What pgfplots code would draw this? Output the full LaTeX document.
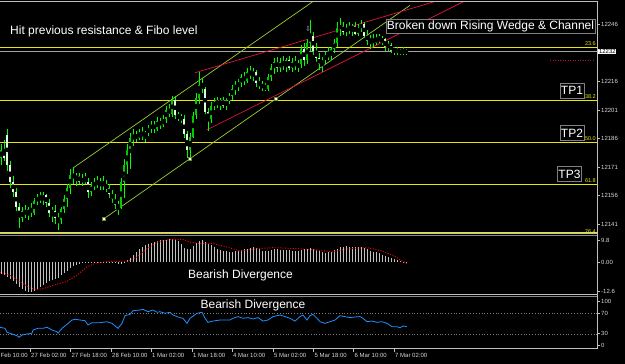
\documentclass[border=0pt]{standalone}
\usepackage{pgfplots}
\pgfplotsset{compat=1.18}
\usepackage{pgfplotstable}
\usepackage{fontspec}
\setmainfont{Liberation Sans}
\newfontfamily\symfont{DejaVu Sans}
\definecolor{limeg}{HTML}{00FF00}
\definecolor{ygreen}{HTML}{9ACD32}
\definecolor{crim}{HTML}{DC143C}
\definecolor{fib}{HTML}{E8E800}
\definecolor{sil}{HTML}{C0C0C0}
\definecolor{dblue}{HTML}{1E90FF}
\definecolor{lbl}{HTML}{D8D8D8}

\pgfplotstableread{
x o h l c
1 12176 12183 12172 12180
4 12180 12185 12174 12176
7 12188 12191 12169 12172
10 12172 12174 12160 12163
13 12163 12166 12155 12158
16 12158 12160 12148 12150
19 12150 12152 12139 12144
22 12144 12150 12142 12148
25 12148 12151 12144 12146
28 12146 12150 12143 12149
31 12149 12152 12145 12147
34 12147 12155 12146 12153
37 12153 12157 12151 12155
40 12155 12158 12152 12154
43 12154 12158 12151 12156
46 12156 12157 12150 12152
49 12152 12154 12145 12147
52 12147 12150 12142 12148
55 12148 12151 12141 12144
58 12144 12147 12138 12143
61 12143 12150 12141 12149
64 12149 12156 12147 12154
67 12154 12162 12150 12160
70 12160 12170 12157 12167
73 12167 12171 12162 12165
76 12165 12168 12161 12166
79 12166 12168 12162 12163
82 12163 12167 12161 12165
85 12165 12168 12162 12163
88 12163 12165 12155 12158
91 12158 12163 12156 12161
94 12161 12165 12159 12163
97 12163 12166 12160 12162
100 12162 12165 12159 12163
103 12163 12166 12159 12161
106 12161 12164 12158 12160
109 12160 12162 12155 12157
112 12157 12159 12152 12154
115 12154 12157 12149 12151
118 12151 12153 12146 12150
121 12150 12165 12149 12163
124 12163 12175 12155 12172
127 12172 12183 12167 12180
130 12180 12189 12170 12186
133 12186 12191 12182 12188
136 12188 12190 12184 12186
139 12186 12191 12185 12189
142 12189 12192 12185 12187
145 12187 12190 12184 12189
148 12189 12193 12187 12191
151 12191 12195 12189 12193
154 12193 12195 12189 12191
157 12191 12197 12190 12195
160 12195 12197 12191 12193
163 12193 12198 12192 12196
166 12196 12203 12194 12201
169 12201 12204 12197 12199
172 12199 12208 12197 12206
175 12206 12208 12196 12198
178 12198 12200 12195 12197
181 12197 12199 12194 12196
184 12196 12198 12186 12188
187 12188 12190 12176 12180
190 12180 12189 12176 12187
193 12187 12200 12186 12198
196 12198 12210 12196 12207
199 12207 12221 12204 12214
202 12214 12218 12210 12212
205 12212 12213 12199 12200
208 12200 12202 12190 12196
211 12196 12205 12194 12203
214 12203 12207 12201 12205
217 12205 12208 12202 12204
220 12204 12207 12201 12206
223 12206 12208 12202 12203
226 12203 12207 12201 12206
229 12206 12210 12204 12208
232 12208 12214 12206 12212
235 12212 12216 12209 12214
238 12214 12217 12211 12215
241 12215 12220 12213 12218
244 12218 12221 12214 12216
247 12216 12223 12215 12221
250 12221 12224 12217 12219
253 12219 12223 12216 12221
256 12221 12222 12213 12215
259 12215 12218 12212 12214
262 12214 12216 12211 12213
265 12213 12215 12211 12212
268 12212 12220 12211 12218
271 12218 12225 12216 12223
274 12223 12228 12220 12226
277 12226 12229 12221 12223
280 12223 12228 12221 12226
283 12226 12229 12222 12224
286 12224 12228 12221 12227
289 12227 12229 12222 12223
292 12223 12228 12221 12226
295 12226 12229 12222 12224
298 12224 12227 12221 12225
301 12225 12235 12223 12233
304 12233 12236 12224 12227
307 12227 12238 12225 12236
310 12236 12248 12232 12240
313 12240 12242 12230 12232
316 12232 12236 12226 12228
319 12228 12231 12222 12225
322 12225 12229 12221 12227
325 12227 12232 12225 12230
328 12230 12234 12227 12229
331 12229 12234 12227 12233
334 12233 12238 12231 12236
337 12236 12247 12234 12244
340 12244 12249 12240 12245
343 12245 12247 12240 12242
346 12242 12246 12240 12244
349 12244 12247 12241 12243
352 12243 12246 12240 12245
355 12245 12247 12240 12241
358 12241 12246 12240 12244
361 12244 12248 12242 12246
364 12246 12247 12239 12240
367 12240 12243 12235 12237
370 12237 12240 12233 12238
373 12238 12241 12234 12236
376 12236 12241 12235 12239
379 12239 12241 12236 12237
382 12237 12240 12235 12238
385 12238 12239 12232 12234
388 12234 12237 12232 12235
391 12235 12236 12231 12232
394 12232 12234 12230 12233
397 12233 12234 12230 12231
400 12231 12233 12230 12232
403 12232 12234 12230 12231
406 12231 12233 12230 12232
}\candles

\pgfplotstableread{
x m
1 -5.3
4 -5.6
7 -6.5
10 -7.5
13 -8.5
16 -9.8
19 -11
22 -12
25 -12.8
28 -13.3
31 -13.4
34 -13
37 -12.2
40 -11.3
43 -10.2
46 -9.2
49 -8.6
52 -8.2
55 -7.6
58 -7.0
61 -5.9
64 -4.8
67 -3.8
70 -2.8
73 -1.9
76 -1.4
79 -1.0
82 -0.6
85 -0.4
88 -0.3
91 -0.3
94 -0.2
97 -0.1
100 -0.1
103 0.05
106 -0.1
109 -0.2
112 -0.3
115 -0.5
118 -0.8
121 -0.9
124 -0.4
127 0.8
130 1.9
133 3.1
136 4.5
139 5.8
142 6.8
145 7.5
148 8.0
151 8.5
154 8.9
157 9.3
160 9.7
163 9.9
166 10.0
169 10.1
172 10.1
175 9.8
178 9.2
181 7.8
184 6.4
187 5.6
190 6.0
193 7.3
196 8.4
199 9.3
202 9.7
205 9.0
208 8.2
211 7.5
214 6.6
217 5.9
220 5.4
223 5.0
226 4.8
229 4.6
232 4.6
235 4.7
238 4.9
241 5.2
244 5.6
247 6.0
250 6.4
253 6.6
256 6.2
259 5.6
262 5.1
265 4.8
268 5.0
271 5.4
274 5.8
277 5.7
280 5.5
283 5.3
286 5.4
289 5.2
292 5.0
295 4.8
298 4.7
301 5.2
304 5.6
307 6.0
310 6.4
313 6.0
316 5.4
319 4.9
322 4.4
325 4.2
328 4.3
331 4.6
334 5.2
337 6.0
340 6.6
343 6.9
346 7.0
349 6.9
352 6.9
355 6.8
358 6.7
361 6.6
364 6.3
367 5.6
370 5.0
373 4.6
376 4.3
379 3.9
382 3.3
385 2.7
388 2.2
391 1.7
394 1.3
397 0.9
400 0.5
403 0.1
406 -0.4
}\macd

\begin{document}
\begin{tikzpicture}[x=1pt,y=1pt]
\useasboundingbox (0,0) rectangle (625,364);
\fill[black] (0,0) rectangle (625,364);
\begin{scope}
\clip (0,0) rectangle (625,364);

% ---------------- main price panel ----------------
\begin{axis}[at={(0pt,130pt)}, anchor=south west, scale only axis,
  width=597pt, height=232pt, xmin=0, xmax=597,
  ymin=12135.75, ymax=12257.55, hide axis, clip=true]
  % fibo levels
  \addplot[fib, line width=0.9pt] coordinates {(0,12233.9) (597,12233.9)};
  \addplot[fib, line width=0.9pt] coordinates {(0,12206.1) (597,12206.1)};
  \addplot[fib, line width=0.9pt] coordinates {(0,12184.0) (597,12184.0)};
  \addplot[fib, line width=0.9pt] coordinates {(0,12162.0) (597,12162.0)};
  \addplot[fib, line width=0.9pt] coordinates {(0,12136.4) (597,12136.4)};
  % bid line
  \addplot[sil!85!black, line width=0.8pt] coordinates {(0,12231.8) (597,12231.8)};
  % pending order line
  \addplot[crim!85!black, dash pattern=on 1pt off 1.5pt, line width=1pt] coordinates {(550,12226.6) (594,12226.6)};
  % channel
  \addplot[ygreen, line width=0.7pt] coordinates {(104,12143.8) (410,12255.8)};
  \addplot[ygreen, line width=0.7pt] coordinates {(73,12170.4) (330,12264)};
  % wedge
  \addplot[crim, line width=0.7pt] coordinates {(195,12220.4) (440,12258.6)};
  \addplot[crim, line width=0.7pt] coordinates {(206.7,12190.35) (466,12258.4)};
  % candle wicks
  \addplot[only marks, mark=none, error bars/.cd, y dir=both, y explicit,
     error mark=none, error bar style={color=limeg, line width=0.6pt}]
     table[x=x, y expr={(\thisrow{h}+\thisrow{l})/2}, y error expr={(\thisrow{h}-\thisrow{l})/2}] {\candles};
  % bull bodies
  \addplot[only marks, mark=none, restrict expr to domain={\thisrow{c}-\thisrow{o}}{0:1000},
     error bars/.cd, y dir=both, y explicit,
     error mark=none, error bar style={color=limeg!80!black, line width=1.8pt}]
     table[x=x, y expr={(\thisrow{o}+\thisrow{c})/2}, y error expr={abs(\thisrow{c}-\thisrow{o})/2}] {\candles};
  % bear bodies
  \addplot[only marks, mark=none, restrict expr to domain={\thisrow{c}-\thisrow{o}}{-1000:0},
     error bars/.cd, y dir=both, y explicit,
     error mark=none, error bar style={color=white!85!limeg, line width=1.4pt}]
     table[x=x, y expr={(\thisrow{o}+\thisrow{c})/2}, y error expr={abs(\thisrow{c}-\thisrow{o})/2}] {\candles};
  % channel anchor points
  \addplot[only marks, mark=square*, mark size=1.5pt, mark options={fill=white, draw=ygreen!70!black}]
     coordinates {(104,12143.8) (190,12175.3) (276,12206.8)};
\end{axis}

% ---------------- MACD panel ----------------
\begin{axis}[at={(0pt,69pt)}, anchor=south west, scale only axis,
  width=597pt, height=60pt, xmin=0, xmax=597,
  ymin=-14.7, ymax=12.03, hide axis, clip=true]
  \addplot[ycomb, color=sil, line width=0.7pt] table[x=x, y=m] {\macd};
  \addplot[red, dash pattern=on 1pt off 1.6pt, line width=0.9pt] coordinates {
   (0,-4.5) (10,-5.9) (20,-8.9) (30,-11.6) (37,-12.2) (43,-11.9) (53,-10.4) (67,-8.6)
   (77,-5.9) (87,-2.2) (97,-0.3) (110,0.3) (127,0.3) (137,2.2) (147,5.9) (157,8.9)
   (170,10.1) (182,10.1) (190,8.9) (200,8.2) (213,8.2) (227,6.7) (240,4.9) (257,5.9)
   (273,6.4) (300,5.9) (320,5.2) (333,4.5) (347,5.9) (367,6.4) (380,5.2) (393,3.0) (407,-0.8)};
\end{axis}

% ---------------- RSI panel ----------------
\begin{axis}[at={(0pt,15pt)}, anchor=south west, scale only axis,
  width=597pt, height=53pt, xmin=0, xmax=597,
  ymin=1.01, ymax=103.43, hide axis, clip=true]
  \addplot[gray, dotted, line width=0.8pt] coordinates {(0,70) (597,70)};
  \addplot[gray, dotted, line width=0.8pt] coordinates {(0,30) (597,30)};
  \addplot[dblue, line width=0.8pt] coordinates {
   (0,42.9) (5,41) (7,33.3) (12,30) (17,26.7) (19,23.6) (22,28) (27,30) (32,31.4) (33,37.7)
   (38,41) (43,41) (47,43) (52,37.7) (57,34.4) (58,31.4) (62,41) (67,48.7) (72,57) (75,58.4)
   (80,57) (85,55.7) (88,47.4) (92,51.9) (100,51.9) (107,53.8) (112,50.6) (118,41) (122,50.6)
   (125,65.4) (130,68) (133,75) (140,76.4) (143,77.7) (148,73.1) (153,76.4) (157,71.9) (160,73)
   (165,70) (170,72) (173,66.7) (177,63.6) (180,61.6) (183,60.3) (187,50.6) (190,60.3) (197,70)
   (202,72) (205,60.3) (208,52.5) (213,55) (220,57) (230,57) (233,60.3) (238,63.6) (243,60.3)
   (248,61.6) (253,59) (258,61.6) (263,55) (268,57) (273,63.6) (280,66.7) (285,63.6) (290,60.3)
   (295,55) (300,63.6) (303,66.7) (307,57) (310,65.4) (313,68) (317,60.3) (320,53.8) (325,50.6)
   (330,53.8) (335,57) (340,65.4) (345,63.6) (350,61.6) (355,62.9) (360,63.6) (363,60.3)
   (367,53.8) (372,55) (377,52.5) (382,53.8) (387,50.6) (392,44.1) (397,44.1) (400,42.2)
   (403,45.4) (407,44.1)};
\end{axis}

% ---------------- frames ----------------
\draw[sil, line width=1pt] (0,362.5) -- (597.5,362.5);
\draw[sil, line width=1pt] (0,130.5) -- (597.5,130.5);
\draw[sil!70!black, line width=1pt] (0,128.5) -- (597.5,128.5);
\draw[sil, line width=1pt] (0,69.5) -- (597.5,69.5);
\draw[sil!70!black, line width=1pt] (0,67.5) -- (597.5,67.5);
\draw[sil, line width=1pt] (0,15) -- (597.5,15);
\draw[sil, line width=1pt] (597.5,15) -- (597.5,362.5);

% ---------------- text objects ----------------
\node[anchor=west, text=white, inner sep=0pt, font=\fontsize{12}{14}\selectfont] at (10,333) {Hit previous resistance \& Fibo level};
\node[draw=gray, fill=black, text=white, inner sep=1pt, minimum width=209pt, minimum height=14pt, font=\fontsize{12}{14}\selectfont] at (490.5,338) {Broken down Rising Wedge \& Channel};
\node[draw=gray, fill=black, text=white, inner sep=1pt, minimum width=24pt, minimum height=15pt, font=\fontsize{12}{14}\selectfont] at (572,273.5) {TP1};
\node[draw=gray, fill=black, text=white, inner sep=1pt, minimum width=24pt, minimum height=15pt, font=\fontsize{12}{14}\selectfont] at (572,231) {TP2};
\node[draw=gray, fill=black, text=white, inner sep=1pt, minimum width=24pt, minimum height=15pt, font=\fontsize{12}{14}\selectfont] at (569.5,190) {TP3};
\node[text=white, inner sep=0pt, font=\fontsize{12}{14}\selectfont] at (240.5,89) {Bearish Divergence};
\node[text=white, inner sep=0pt, font=\fontsize{12}{14}\selectfont] at (253,58.2) {Bearish Divergence};
\node[text=blue!30!white, inner sep=0pt, font=\symfont\fontsize{7}{8}\selectfont] at (308,335) {⇩};

% fibo labels
\begin{scope}[every node/.style={anchor=east, text=fib, inner sep=0pt, font=\fontsize{5.5}{6}\selectfont}]
\node at (596,320) {23.6};
\node at (596,267.5) {38.2};
\node at (596,225.5) {50.0};
\node at (596,183.5) {61.8};
\node at (596,132.5) {76.4};
\end{scope}

% right scale labels
\begin{scope}[every node/.style={anchor=west, text=lbl, inner sep=0pt, font=\fontsize{6}{7}\selectfont}]
\node at (601,340) {12246};
\node at (601,283) {12216};
\node at (601,254) {12201};
\node at (601,226) {12186};
\node at (601,197) {12171};
\node at (601,169) {12156};
\node at (601,140) {12141};
\node at (601,124) {9.8};
\node at (601,102) {0.00};
\node at (601,73) {-12.6};
\node at (601,63) {100};
\node at (601,50.5) {70};
\node at (601,30.3) {30};
\node at (601,18.3) {0};
\end{scope}
\foreach \yy in {340,283,254,226,197,169,140,124,102,73,63,50.5,30.3,18.3}{\draw[sil] (597.5,\yy) -- (600,\yy);}
\node[fill=white, text=black, inner sep=0.8pt, anchor=west, font=\fontsize{6}{7}\selectfont] at (598,312.5) {12232};

% time axis
\node[anchor=west, text=lbl, inner sep=0pt, font=\fontsize{6}{7}\selectfont] at (0.5,8.5) {Feb 10:00};
\foreach \tx/\tl in {30/27 Feb 02:00, 70.5/27 Feb 18:00, 111/28 Feb 10:00, 151/1 Mar 02:00, 192/1 Mar 18:00, 232/4 Mar 10:00, 273/5 Mar 02:00, 313.5/5 Mar 18:00, 353.5/6 Mar 10:00, 394/7 Mar 02:00}{
  \draw[sil] (\tx,15) -- (\tx,11.5);
  \node[anchor=west, text=lbl, inner sep=0pt, font=\fontsize{6}{7}\selectfont] at (\tx+1,8.5) {\tl};
}
\end{scope}
\end{tikzpicture}
\end{document}
